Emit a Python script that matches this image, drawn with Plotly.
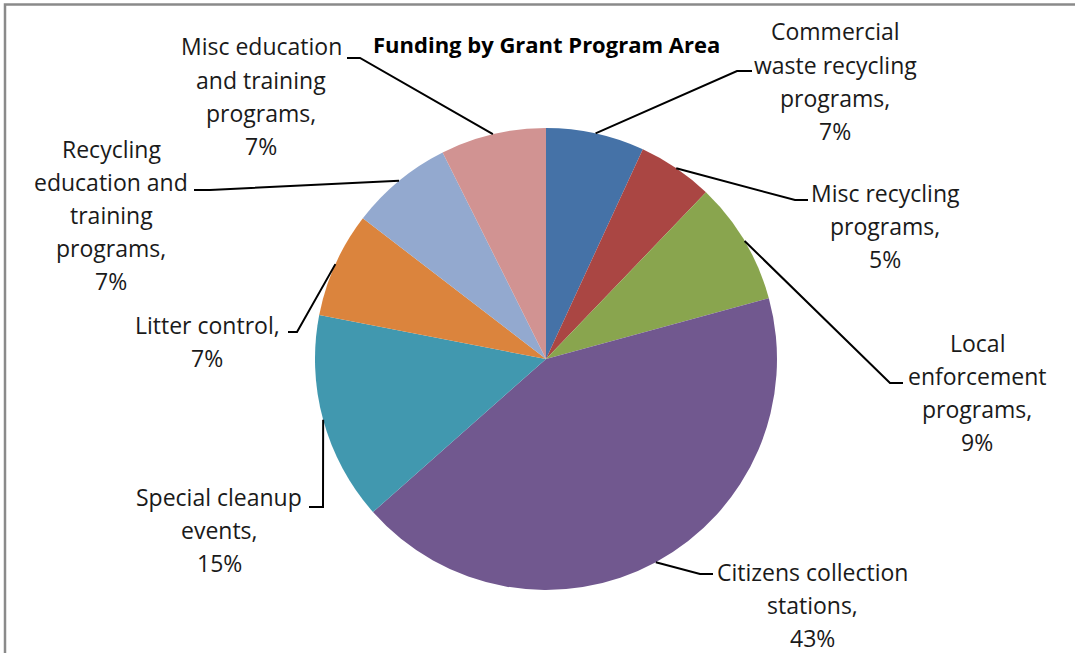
import math
import plotly.graph_objects as go

W, H = 1075, 653

# slices, clockwise from 12 o'clock
categories = [
    "Commercial waste recycling programs",
    "Misc recycling programs",
    "Local enforcement programs",
    "Citizens collection stations",
    "Special cleanup events",
    "Litter control",
    "Recycling education and training programs",
    "Misc education and training programs",
]
values = [6.9, 5.3, 8.6, 42.8, 14.6, 7.4, 7.2, 7.4]
label_lines = [
    ["Commercial", "waste recycling", "programs,"],
    ["Misc recycling", "programs,"],
    ["Local", "enforcement", "programs,"],
    ["Citizens collection", "stations,"],
    ["Special cleanup", "events,"],
    ["Litter control,"],
    ["Recycling", "education and", "training", "programs,"],
    ["Misc education", "and training", "programs,"],
]
colors = ["#4572A7", "#AA4643", "#89A54E", "#71588F",
          "#4198AF", "#DB843D", "#93A9CF", "#D19392"]

# layout, in pixels
CX, CY, R = 546, 359, 231
LINE_H = 33
label_pos = [(835, 81), (885, 226), (977, 392), (812, 605),
             (219, 530), (207, 341), (111, 215), (261, 96)]
elbows = [((737, 71), (752, 71)), ((795, 200), (808, 200)),
          ((890, 383), (903, 383)), ((700, 574), (713, 574)),
          ((323, 507), (309, 507)), ((297, 332), (288, 332)),
          ((210, 190), (194, 190)), ((360, 58), (347, 58))]

FONT = "Open Sans, Noto Sans, sans-serif"


def px(x, y):
    return x / W, 1 - y / H


fig = go.Figure(go.Pie(
    labels=categories,
    values=values,
    sort=False,
    direction="clockwise",
    rotation=0,
    marker=dict(colors=colors, line=dict(width=0)),
    textinfo="none",
    hoverinfo="label+percent",
    domain=dict(x=[(CX - R) / W, (CX + R) / W],
                y=[1 - (CY + R) / H, 1 - (CY - R) / H]),
    showlegend=False,
))

total = sum(values)
shapes = []
annotations = []
cum = 0
for i, v in enumerate(values):
    # leader line: slice mid-angle on the rim -> elbow -> label
    mid = (cum + v / 2) / total * 2 * math.pi
    cum += v
    ax = CX + R * math.sin(mid)
    ay = CY - R * math.cos(mid)
    (ex, ey), (tx, ty) = elbows[i]
    p0, p1, p2 = px(ax, ay), px(ex, ey), px(tx, ty)
    shapes.append(dict(
        type="path", xref="paper", yref="paper",
        path=f"M {p0[0]},{p0[1]} L {p1[0]},{p1[1]} L {p2[0]},{p2[1]}",
        line=dict(color="black", width=2),
    ))

    lines = label_lines[i] + [f"{round(v / total * 100)}%"]
    lx, ly = label_pos[i]
    n = len(lines)
    for j, t in enumerate(lines):
        x, y = px(lx, ly + (j - (n - 1) / 2) * LINE_H)
        annotations.append(dict(
            x=x, y=y, xref="paper", yref="paper", text=t,
            showarrow=False, xanchor="center", yanchor="middle",
            font=dict(family=FONT, size=23, color="#1a1a1a"),
        ))

# chart title
tx, ty = px(546, 44)
annotations.append(dict(
    x=tx, y=ty, xref="paper", yref="paper",
    text="<b>Funding by Grant Program Area</b>",
    showarrow=False, xanchor="center", yanchor="middle",
    font=dict(family=FONT, size=22, color="black"),
))

# chart area border
shapes.append(dict(
    type="rect", xref="paper", yref="paper",
    x0=5 / W, x1=1.05, y0=-0.05, y1=1 - 4.5 / H,
    line=dict(color="#8a8a8a", width=2.5),
))

fig.update_layout(
    width=W, height=H,
    margin=dict(l=0, r=0, t=0, b=0),
    paper_bgcolor="white",
    plot_bgcolor="white",
    shapes=shapes,
    annotations=annotations,
)

# drop the default 8px page margin so the chart sits at the window corner
fig.write_html("out.html", config={"displayModeBar": False},
               post_script="document.body.style.margin = '0';")
